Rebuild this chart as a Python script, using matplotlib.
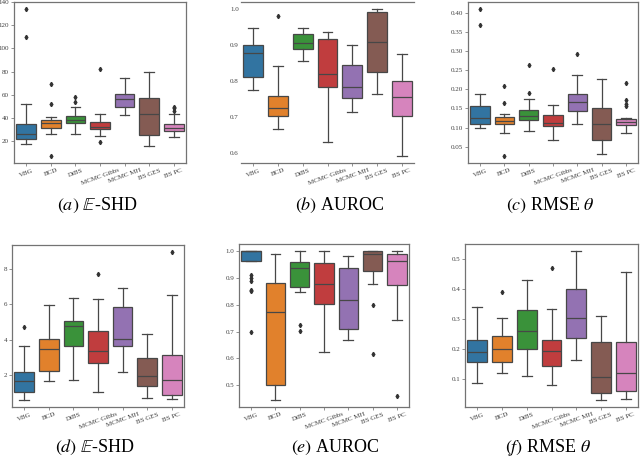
import colorsys
import numpy as np
import matplotlib
matplotlib.use("Agg")
import matplotlib.pyplot as plt
import matplotlib.colors as mcolors

plt.rcParams['mathtext.fontset'] = 'stix'
plt.rcParams['font.family'] = ['Liberation Serif', 'DejaVu Serif']

methods = ['VBG', 'BCD', 'DiBS', 'MCMC Gibbs', 'MCMC MH', 'BS GES', 'BS PC']

# each panel: whislo, q1, median, q3, whishi per method, plus fliers
# (a) E-SHD
a_lo = [17.4, 25.7, 26.3, 24.6, 42.6, 15.7, 23.7]
a_q1 = [21.7, 31.0, 35.7, 30.0, 49.4, 25.0, 29.0]
a_med = [26.0, 35.5, 38.0, 32.0, 56.3, 43.4, 31.4]
a_q3 = [34.6, 38.0, 42.0, 36.3, 60.3, 57.4, 34.9]
a_hi = [51.7, 41.0, 49.0, 43.7, 74.3, 80.0, 43.0]
a_fl = [[110, 133.7], [51.7, 69.4, 7.4], [53.7, 58.3], [82, 19.4], [], [], [46, 48.3, 49.7]]

# (b) AUROC
b_lo = [0.775, 0.667, 0.856, 0.630, 0.714, 0.764, 0.592]
b_q1 = [0.811, 0.702, 0.889, 0.784, 0.752, 0.825, 0.702]
b_med = [0.879, 0.726, 0.906, 0.819, 0.784, 0.908, 0.756]
b_q3 = [0.900, 0.757, 0.931, 0.917, 0.845, 0.993, 0.801]
b_hi = [0.947, 0.842, 0.949, 0.938, 0.901, 1.000, 0.875]
b_fl = [[], [0.981], [], [], [], [], []]

# (c) RMSE theta
c_lo = [0.0993, 0.0854, 0.0906, 0.0681, 0.1106, 0.0317, 0.0846]
c_q1 = [0.1106, 0.1100, 0.1192, 0.1054, 0.1435, 0.0664, 0.1071]
c_med = [0.1244, 0.1184, 0.1314, 0.1132, 0.1660, 0.1106, 0.1158]
c_q3 = [0.1574, 0.1270, 0.1461, 0.1331, 0.1868, 0.1513, 0.1236]
c_hi = [0.1886, 0.1366, 0.1747, 0.1582, 0.2388, 0.2284, 0.1250]
c_fl = [[0.369, 0.4095], [0.164, 0.2085, 0.0265], [0.1894, 0.2648], [0.2527], [0.2917], [],
        [0.157, 0.162, 0.173, 0.2163]]

# (d) E-SHD
d_lo = [0.63, 1.68, 1.72, 1.04, 2.19, 0.74, 0.665]
d_q1 = [1.06, 2.26, 3.64, 2.70, 3.67, 1.38, 0.87]
d_med = [1.66, 3.50, 4.78, 3.37, 4.07, 1.96, 1.74]
d_q3 = [2.21, 4.03, 5.08, 4.52, 5.87, 2.98, 3.17]
d_hi = [3.66, 5.97, 6.36, 6.31, 6.95, 4.31, 6.53]
d_fl = [[4.71], [], [], [7.70], [], [], [8.94]]

# (e) AUROC
e_lo = [0.965, 0.445, 0.849, 0.622, 0.667, 0.878, 0.744]
e_q1 = [0.965, 0.500, 0.867, 0.804, 0.711, 0.926, 0.873]
e_med = [1.000, 0.773, 0.938, 0.878, 0.817, 0.989, 0.964]
e_q3 = [1.000, 0.882, 0.960, 0.958, 0.937, 1.000, 0.991]
e_hi = [1.000, 0.989, 1.000, 1.000, 0.982, 1.000, 1.000]
e_fl = [[0.911, 0.901, 0.891, 0.857, 0.852, 0.70], [], [0.726, 0.701], [], [],
        [0.798, 0.614], [0.457]]

# (f) RMSE theta
f_lo = [0.088, 0.122, 0.111, 0.079, 0.164, 0.032, 0.035]
f_q1 = [0.158, 0.156, 0.200, 0.145, 0.238, 0.055, 0.059]
f_med = [0.190, 0.201, 0.259, 0.192, 0.304, 0.106, 0.120]
f_q3 = [0.230, 0.242, 0.331, 0.230, 0.399, 0.225, 0.225]
f_hi = [0.341, 0.303, 0.429, 0.335, 0.525, 0.311, 0.458]
f_fl = [[], [0.390], [], [0.469], [], [], []]

captions = [r'$(a)$ $\mathbb{E}$-SHD', r'$(b)$ AUROC', r'$(c)$ RMSE $\theta$',
            r'$(d)$ $\mathbb{E}$-SHD', r'$(e)$ AUROC', r'$(f)$ RMSE $\theta$']

panels = [
    (a_lo, a_q1, a_med, a_q3, a_hi, a_fl, [20, 40, 60, 80, 100, 120, 140], '{:.0f}'),
    (b_lo, b_q1, b_med, b_q3, b_hi, b_fl, [0.6, 0.7, 0.8, 0.9, 1.0], '{:.1f}'),
    (c_lo, c_q1, c_med, c_q3, c_hi, c_fl, [0.05, 0.10, 0.15, 0.20, 0.25, 0.30, 0.35, 0.40], '{:.2f}'),
    (d_lo, d_q1, d_med, d_q3, d_hi, d_fl, [2, 4, 6, 8], '{:.0f}'),
    (e_lo, e_q1, e_med, e_q3, e_hi, e_fl, [0.5, 0.6, 0.7, 0.8, 0.9, 1.0], '{:.1f}'),
    (f_lo, f_q1, f_med, f_q3, f_hi, f_fl, [0.1, 0.2, 0.3, 0.4, 0.5], '{:.1f}'),
]

# axes boxes in pixels: left, right, top, bottom
W, H = 640, 457
boxes = [(14, 186, 2, 163), (241, 414, 2, 163), (468, 638, 2, 163),
         (12, 184, 245, 407), (239, 409, 244, 407), (465, 638, 244, 407)]
cap_pos = [(97, 205), (340, 205), (550, 205), (95, 447), (335, 447), (548, 447)]


def desat(c, prop=0.75):
    r, g, b = mcolors.to_rgb(c)
    h, l, s = colorsys.rgb_to_hls(r, g, b)
    return colorsys.hls_to_rgb(h, l, s * prop)


palette = [desat(c) for c in plt.get_cmap('tab10').colors[:7]]
line_col = '#474747'

fig = plt.figure(figsize=(6.4, 4.57), dpi=100)

for i, (lo, q1, med, q3, hi, fl, yt, fmt) in enumerate(panels):
    l, r, t, b = boxes[i]
    ax = fig.add_axes([l / W, (H - b) / H, (r - l) / W, (b - t) / H])
    stats = []
    for k in range(len(methods)):
        stats.append(dict(whislo=lo[k], q1=q1[k], med=med[k], q3=q3[k],
                          whishi=hi[k], fliers=fl[k]))
    bp = ax.bxp(stats, positions=np.arange(len(methods)), widths=0.8,
                capwidths=0.4, patch_artist=True,
                boxprops=dict(edgecolor=line_col, linewidth=0.9),
                whiskerprops=dict(color=line_col, linewidth=0.9),
                capprops=dict(color=line_col, linewidth=0.9),
                medianprops=dict(color=line_col, linewidth=0.9),
                flierprops=dict(marker='d', markersize=2.2, markerfacecolor='0.2',
                                markeredgecolor='0.2'))
    for patch, col in zip(bp['boxes'], palette):
        patch.set_facecolor(col)
    ax.set_xlim(-0.5, len(methods) - 0.5)
    ax.set_xticks(np.arange(len(methods)))
    ax.set_xticklabels(methods, rotation=20, ha='center', fontsize=5)
    ax.set_yticks(yt)
    ax.set_yticklabels([fmt.format(v) for v in yt], fontsize=5)
    ax.tick_params(length=2, width=0.5, color='0.4', pad=1.5, labelcolor='0.25')
    for s in ax.spines.values():
        s.set_color('0.45')
        s.set_linewidth(0.9)
    if i == 1:
        ax.spines['left'].set_visible(False)
        ax.spines['right'].set_visible(False)
        ax.tick_params(axis='y', length=0)
    cx, cy = cap_pos[i]
    fig.text(cx / W, (H - cy) / H, captions[i], ha='center', va='center', fontsize=13)

fig.savefig('out.png', dpi=100)
